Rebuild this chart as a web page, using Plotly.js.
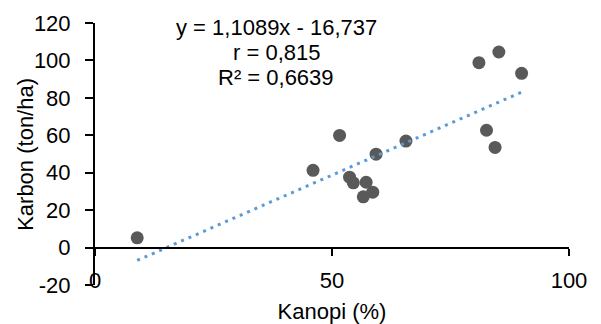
<!DOCTYPE html>
<html>
<head>
<meta charset="utf-8">
<script src="https://cdn.plot.ly/plotly-3.0.1.min.js"></script>
<style>html,body{margin:0;padding:0;background:#fff;}#chart{width:601px;height:324px;}</style>
</head>
<body>
<div id="chart"></div>
<script>
// Data
const kanopi = [8.9, 46.0, 51.6, 53.7, 54.5, 57.2, 58.6, 56.6, 59.3, 65.6, 81.0, 85.2, 90.0, 82.6, 84.4];
const karbon = [5.2, 41.3, 59.9, 37.6, 34.6, 34.9, 29.6, 27.1, 49.9, 56.9, 98.8, 104.5, 93.1, 62.7, 53.5];
const slope = 1.1089;
const intercept = -16.737;
const eqLines = ["y = 1,1089x - 16,737", "r = 0,815", "R² = 0,6639"];
const xTicks = [0, 50, 100];
const yTicks = [-20, 0, 20, 40, 60, 80, 100, 120];
const xTitle = "Kanopi (%)";
const yTitle = "Karbon (ton/ha)";

const xMin = Math.min(...kanopi), xMax = Math.max(...kanopi);
const trendX = [xMin, xMax];
const trendY = trendX.map(v => slope * v + intercept);

const FONT = "Liberation Sans, Arial, sans-serif";

const traces = [
  {
    x: trendX, y: trendY, type: 'scatter', mode: 'lines', xaxis: 'x2', yaxis: 'y',
    line: {color: '#5B9BD5', width: 3, dash: '3px,5px'}, hoverinfo: 'skip'
  },
  {
    x: kanopi, y: karbon, type: 'scatter', mode: 'markers', xaxis: 'x', yaxis: 'y',
    marker: {color: '#595959', size: 13}
  }
];

const annotations = eqLines.map((t, i) => ({
  text: t, xref: 'paper', yref: 'paper', x: 0.382, y: (262 - (27 + i * 25 - 23)) / 262, showarrow: false,
  font: {family: FONT, size: 22, color: '#000'}, xanchor: 'center', yanchor: 'middle'
}));
annotations.push({
  text: yTitle, xref: 'paper', yref: 'paper', x: -0.148, y: 0.5, textangle: -90, showarrow: false,
  font: {family: FONT, size: 22, color: '#000'}, xanchor: 'center', yanchor: 'middle'
});

const layout = {
  width: 601, height: 324,
  margin: {l: 95, r: 32, t: 23, b: 39, pad: 0},
  paper_bgcolor: '#fff', plot_bgcolor: 'rgba(0,0,0,0)',
  showlegend: false,
  font: {family: FONT, size: 22, color: '#000'},
  xaxis: {
    range: [0, 100], tickvals: xTicks, ticktext: xTicks.map(String),
    showline: false, ticks: '', showgrid: false, zeroline: false,
    anchor: 'free', position: 0.075, side: 'bottom',
    tickfont: {family: FONT, size: 22, color: '#000'},
    title: {text: xTitle, font: {family: FONT, size: 22, color: '#000'}, standoff: 11}
  },
  xaxis2: {
    range: [0, 100], overlaying: 'x', anchor: 'free', position: 1 / 7, side: 'bottom',
    tickvals: xTicks, showticklabels: false,
    showline: true, linecolor: '#000', linewidth: 2,
    ticks: 'outside', ticklen: 7, tickwidth: 2, tickcolor: '#000',
    showgrid: false, zeroline: false
  },
  yaxis: {
    range: [-20, 120], tickvals: yTicks, ticktext: yTicks.map(String),
    showline: true, linecolor: '#000', linewidth: 2,
    ticks: 'outside', ticklen: 8, tickwidth: 2, tickcolor: '#000',
    ticklabelstandoff: 10,
    showgrid: false, zeroline: false,
    tickfont: {family: FONT, size: 22, color: '#000'}
  },
  annotations: annotations
};

Plotly.newPlot('chart', traces, layout, {staticPlot: true, displayModeBar: false});
</script>
</body>
</html>
